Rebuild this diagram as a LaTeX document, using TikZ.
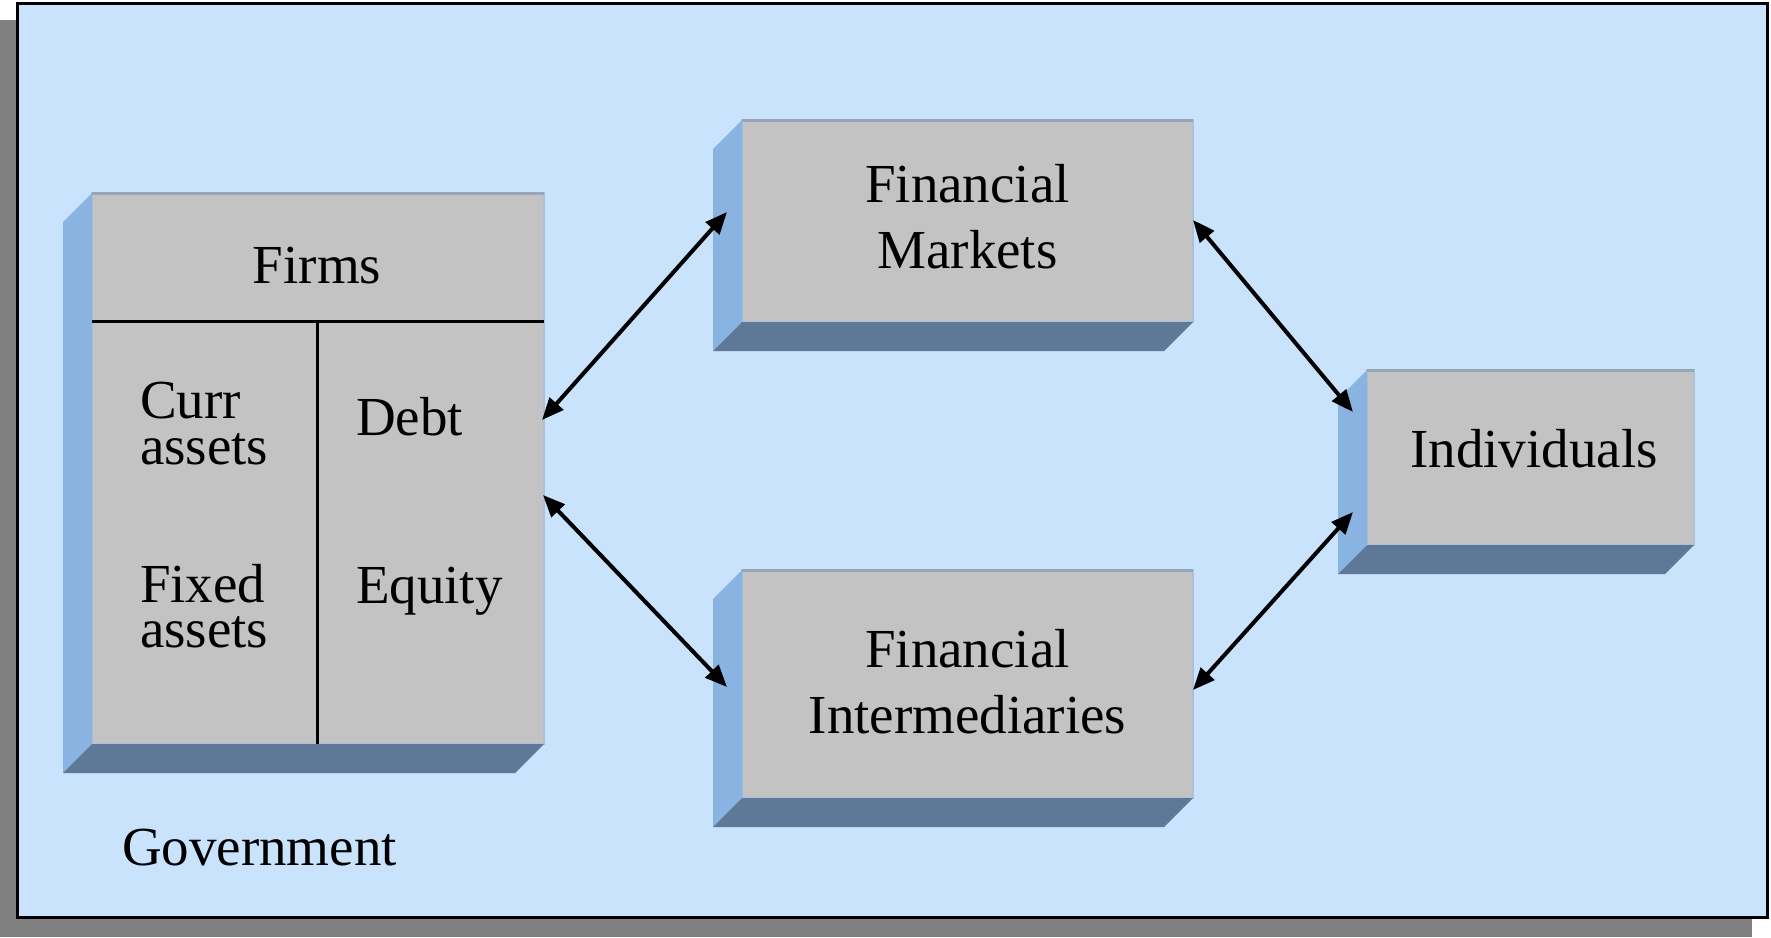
\documentclass[tikz,border=0pt]{standalone}
\usepackage{fontspec}
\setmainfont{Liberation Serif}
\usetikzlibrary{arrows.meta,calc}
\definecolor{bgblue}{RGB}{201,227,253}
\definecolor{shadowgray}{RGB}{128,128,128}
\definecolor{facegray}{RGB}{195,195,195}
\definecolor{faceedge}{RGB}{172,192,214}
\definecolor{facetop}{RGB}{152,166,184}
\definecolor{sideblue}{RGB}{137,180,226}
\definecolor{bottomblue}{RGB}{94,120,152}
\tikzset{
  face/.style={fill=facegray, draw=faceedge, line width=1pt, inner sep=0pt, outer sep=0pt},
  txt/.style={font=\fontsize{27.5}{33}\selectfont, inner sep=0pt, outer sep=0pt, text=black},
  link/.style={{Triangle[length=11pt,width=9pt]}-{Triangle[length=11pt,width=9pt]}, line width=2pt, black},
  divider/.style={line width=1.5pt, black},
  toprim/.style={facetop, line width=1.5pt},
}
\newcommand\slabsides[1]{%
  \fill[sideblue] (#1.north west) -- ++(-29,29) -- ($(#1.south west)+(-29,29)$) -- (#1.south west) -- cycle;
  \fill[bottomblue] (#1.south west) -- ++(-29,29) -- ($(#1.south east)+(-29,29)$) -- (#1.south east) -- cycle;
  \draw[toprim] (#1.north west) -- (#1.north east);
}
\begin{document}
\begin{tikzpicture}[x=0.5pt,y=-0.5pt]
\useasboundingbox (0,0) rectangle (1771,937);
\fill[white] (0,0) rectangle (1771,937);
% frame with shadow
\fill[shadowgray] (-1,20) rectangle (1752,937);
\draw[fill=bgblue, line width=1.5pt] (17.5,3) rectangle (1767,917.5);

% boxes
\node[face, minimum width=226pt, minimum height=275.5pt] (firms) at (318,468.5) {};
\node[face, minimum width=225.5pt, minimum height=101pt] (fm) at (967.5,221) {};
\node[face, minimum width=225.5pt, minimum height=114pt] (fi) at (967.5,684) {};
\node[face, minimum width=163.5pt, minimum height=87.5pt] (ind) at (1530.5,457.5) {};
\slabsides{firms}
\slabsides{fm}
\slabsides{fi}
\slabsides{ind}

% firms dividers
\coordinate (divy) at (0,321);
\coordinate (divx) at (317,321);
\draw[divider] (firms.west |- divy) -- (firms.east |- divy);
\draw[divider] (divx) -- (divx |- firms.south);

% texts
\node[txt, anchor=base] (tfirms) at (317,283) {Firms};
\node[txt, anchor=base west] (tcurr) at (140,418) {Curr};
\node[txt, anchor=base west] (tcassets) at (140,464) {assets};
\node[txt, anchor=base west] (tfixed) at (140,602) {Fixed};
\node[txt, anchor=base west] (tfassets) at (140,647) {assets};
\node[txt, anchor=base west] (tdebt) at (356,435) {Debt};
\node[txt, anchor=base west] (tequity) at (356,603) {Equity};
\node[txt, anchor=base] (tfm1) at (967.5,202) {Financial};
\node[txt, anchor=base] (tfm2) at (967.5,268) {Markets};
\node[txt, anchor=base] (tfi1) at (967.5,667) {Financial};
\node[txt, anchor=base] (tfi2) at (967.5,733) {Intermediaries};
\node[txt, anchor=base] (tind) at (1534,467) {Individuals};
\node[txt, anchor=base west] (tgov) at (122,865) {Government};

% connector ends
\coordinate (f1) at (542,420);
\coordinate (f2) at (543,495);
\coordinate (m1) at (727,212);
\coordinate (m2) at (1193,220);
\coordinate (i1) at (727,687);
\coordinate (i2) at (1193,690);
\coordinate (n1) at (1353,412);
\coordinate (n2) at (1353,512);
\draw[link] (f1) -- (m1);
\draw[link] (f2) -- (i1);
\draw[link] (m2) -- (n1);
\draw[link] (i2) -- (n2);
\end{tikzpicture}
\end{document}
